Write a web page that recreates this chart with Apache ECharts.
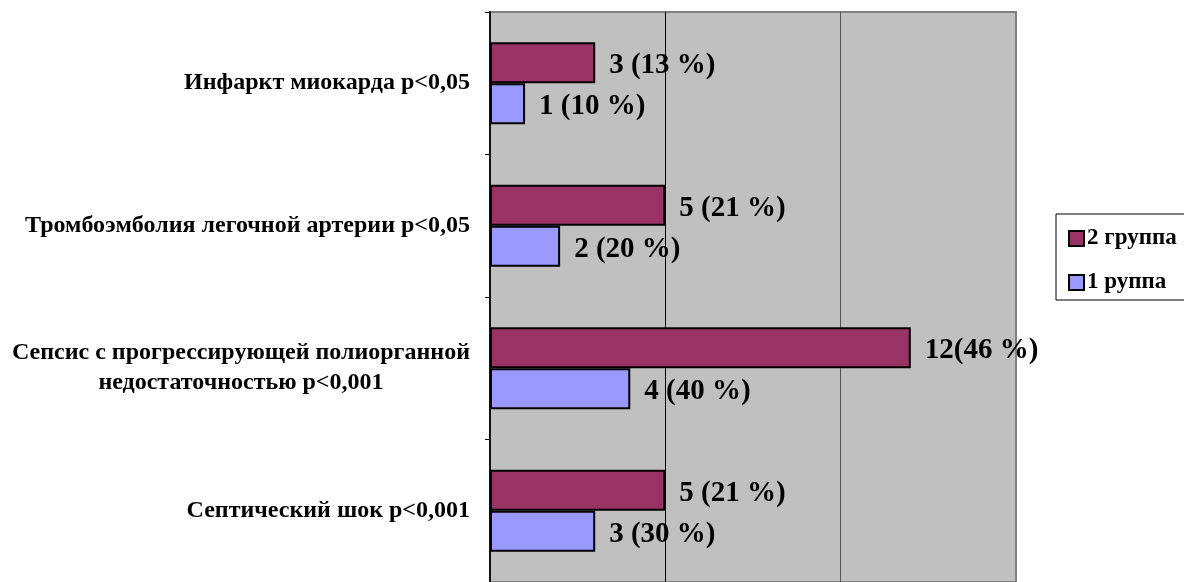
<!DOCTYPE html>
<html>
<head>
<meta charset="utf-8">
<script src="https://cdn.jsdelivr.net/npm/echarts@6/dist/echarts.min.js"></script>
<style>
  html, body { margin: 0; padding: 0; background: #fff; }
  #chart { width: 1184px; height: 582px; }
</style>
</head>
<body>
<div id="chart"></div>
<script>
// Complications by patient group
const categories = [
  'Инфаркт миокарда p<0,05',
  'Тромбоэмболия легочной артерии p<0,05',
  'Сепсис с прогрессирующей полиорганной\nнедостаточностью p<0,001',
  'Септический шок p<0,001'
];
const seriesNames = ['2 группа', '1 руппа'];
const group2Values = [3, 5, 12, 5];
const group2Labels = ['3 (13 %)', '5 (21 %)', '12(46 %)', '5 (21 %)'];
const group1Values = [1, 2, 4, 3];
const group1Labels = ['1 (10 %)', '2 (20 %)', '4 (40 %)', '3 (30 %)'];
const xTicks = [0, 5, 10, 15];

const FONT = '"Liberation Serif", "Times New Roman", serif';
const chart = echarts.init(document.getElementById('chart'), null, { renderer: 'canvas' });

const labelStyle = (texts) => ({
  show: true,
  position: 'right',
  distance: 14,
  offset: [0, 3],
  formatter: (p) => texts[p.dataIndex],
  fontFamily: FONT,
  fontWeight: 'bold',
  fontSize: 29,
  color: '#000'
});

chart.setOption({
  animation: false,
  backgroundColor: '#fff',
  grid: {
    left: 490, top: 12, width: 526, height: 576,
    show: true,
    backgroundColor: '#C0C0C0',
    borderColor: '#808080',
    borderWidth: 2
  },
  legend: {
    orient: 'vertical',
    left: 1056, top: 214,
    padding: [13, 40, 6, 12],
    itemGap: 21,
    itemWidth: 15, itemHeight: 15,
    icon: 'rect',
    borderColor: '#000', borderWidth: 1,
    textStyle: { fontFamily: FONT, fontWeight: 'bold', fontSize: 23, color: '#000', padding: [0, 0, 0, -2] },
    data: seriesNames
  },
  xAxis: {
    type: 'value',
    min: xTicks[0], max: xTicks[xTicks.length - 1], interval: 5,
    axisLine: { show: false },
    axisTick: { show: false },
    axisLabel: { show: false },
    splitLine: { show: true, lineStyle: { color: ['#000', '#000', '#555', '#808080'], width: 1 } }
  },
  yAxis: {
    type: 'category',
    inverse: true,
    data: categories,
    axisLine: { show: true, lineStyle: { color: '#111', width: 2 } },
    axisTick: { show: true, length: 5, lineStyle: { color: '#000', width: 1 } },
    axisLabel: {
      margin: 20,
      formatter: (v) => v.split('\n').map(s => '{c|' + s + '}').join('\n'),
      rich: {
        c: { fontFamily: FONT, fontWeight: 'bold', fontSize: 24, color: '#000', align: 'center', lineHeight: 30 }
      }
    }
  },
  series: [
    {
      name: seriesNames[0], type: 'bar',
      data: group2Values,
      barWidth: 41, barGap: '0%',
      itemStyle: { color: '#993366', borderColor: '#000', borderWidth: 2 },
      label: labelStyle(group2Labels)
    },
    {
      name: seriesNames[1], type: 'bar',
      data: group1Values,
      barWidth: 41, barGap: '0%',
      itemStyle: { color: '#9999FF', borderColor: '#000', borderWidth: 2 },
      label: labelStyle(group1Labels)
    }
  ]
});
</script>
</body>
</html>
